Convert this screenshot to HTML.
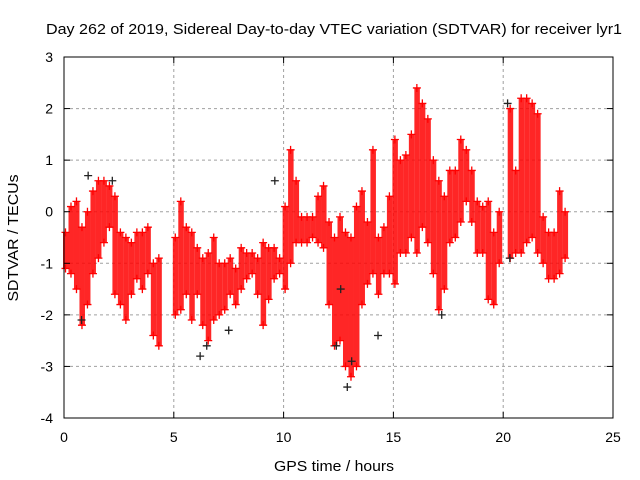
<!DOCTYPE html>
<html><head><meta charset="utf-8"><style>
body{margin:0;background:#fff}
svg{display:block;font-family:"Liberation Sans",sans-serif}
</style></head><body>
<svg id="chart" width="640" height="480" viewBox="0 0 640 480">
<rect width="640" height="480" fill="#fff"/>
<text x="334" y="34" font-size="14.5" textLength="576" lengthAdjust="spacingAndGlyphs" text-anchor="middle">Day 262 of 2019, Sidereal Day-to-day VTEC variation (SDTVAR) for receiver lyr1</text>
<g id="grid"></g>
<g id="series"></g>
<g id="series2"></g>
<rect x="64" y="57" width="549" height="361" fill="none" stroke="#000"/>
<g id="ticks"></g>
<text x="334" y="471" font-size="14.5" textLength="120" lengthAdjust="spacingAndGlyphs" text-anchor="middle">GPS time / hours</text>
<text transform="translate(18,238) rotate(-90)" font-size="14.5" textLength="127" lengthAdjust="spacingAndGlyphs" text-anchor="middle">SDTVAR / TECUs</text>
</svg>
<script>
const xTicks=[0,5,10,15,20,25];
const yTicks=[-4,-3,-2,-1,0,1,2,3];
const binTimes=[0,0.25,0.5,0.75,1,1.25,1.5,1.75,2,2.25,2.5,2.75,3,3.25,3.5,3.75,4,4.25,5,5.25,5.5,5.75,6,6.25,6.5,6.75,7,7.25,7.5,7.75,8,8.25,8.5,8.75,9,9.25,9.5,9.75,10,10.25,10.5,10.75,11,11.25,11.5,11.75,12,12.25,12.5,12.75,13,13.25,13.5,13.75,14,14.25,14.5,14.75,15,15.25,15.5,15.75,16,16.25,16.5,16.75,17,17.25,17.5,17.75,18,18.25,18.5,18.75,19,19.25,19.5,19.75,20.25,20.5,20.75,21,21.25,21.5,21.75,22,22.25,22.5,22.75];
const binLow=[-1.1,-1.2,-1.5,-2.2,-1.8,-1.2,-0.9,-0.6,-0.3,-1.6,-1.8,-2.1,-1.6,-1.3,-1.5,-1.2,-2.4,-2.6,-2.0,-1.9,-1.6,-2.1,-1.6,-2.2,-2.5,-2.1,-2.0,-1.9,-1.6,-1.8,-1.5,-1.3,-1.2,-1.6,-2.2,-1.7,-1.3,-1.2,-1.5,-1.0,-0.6,-0.6,-0.6,-0.5,-0.6,-0.7,-1.8,-2.6,-2.5,-3.0,-3.2,-3.0,-1.8,-1.4,-1.2,-1.6,-1.2,-1.2,-1.4,-0.8,-0.8,-0.5,-0.8,-0.3,-0.6,-1.2,-1.9,-1.5,-0.6,-0.5,-0.2,0.2,-0.2,-0.8,-0.8,-1.7,-1.8,-1.0,-0.9,-0.8,-0.8,-0.6,-0.5,-0.8,-1.0,-1.3,-1.3,-1.2,-0.9];
const binHigh=[-0.4,0.1,0.2,-0.3,0.0,0.4,0.6,0.6,0.5,0.3,-0.4,-0.5,-0.6,-0.4,-0.4,-0.3,-1.0,-0.9,-0.5,0.2,-0.3,-0.4,-0.7,-0.9,-0.8,-0.5,-1.0,-1.0,-0.9,-1.1,-0.7,-0.8,-0.8,-0.9,-0.6,-0.7,-0.7,-0.9,0.1,1.2,0.6,-0.1,-0.1,-0.1,0.3,0.5,-0.2,-0.5,-0.1,-0.4,-0.5,0.1,0.4,-0.2,1.2,-0.5,-0.3,0.3,1.4,1.0,1.1,1.5,2.4,2.1,1.8,1.0,0.6,0.3,0.8,0.8,1.4,1.2,0.8,0.2,0.1,0.2,-0.4,0.0,2.0,0.8,2.2,2.2,2.1,1.9,-0.1,-0.4,-0.4,0.4,0.0];
const blackT=[0.8,2.2,6.2,6.5,7.5,9.6,12.4,12.9,13.1,14.3,17.2,20.2,20.3,12.6,1.1];
const blackV=[-2.1,0.6,-2.8,-2.6,-2.3,0.6,-2.6,-3.4,-2.9,-2.4,-2.0,2.1,-0.9,-1.5,0.7];
const X0=64,X1=613,Y0=418,Y1=57;
const sx=t=>X0+(t-0)/(25-0)*(X1-X0);
const sy=v=>Y0-(v+4)/(3+4)*(Y0-Y1);
const NS="http://www.w3.org/2000/svg";
function mk(tag,attrs,parent){const e=document.createElementNS(NS,tag);for(const k in attrs)e.setAttribute(k,attrs[k]);parent.appendChild(e);return e;}
const grid=document.getElementById('grid'),ticks=document.getElementById('ticks');
xTicks.forEach(t=>{const x=sx(t);
 if(t>0&&t<25){const l=mk('line',{x1:x,x2:x,y1:Y1,y2:Y0,stroke:'#a0a0a0','stroke-dasharray':'3,3'},grid);}
 mk('line',{x1:x,x2:x,y1:Y0,y2:Y0-6,stroke:'#000'},ticks);mk('line',{x1:x,x2:x,y1:Y1,y2:Y1+6,stroke:'#000'},ticks);
 const tx=mk('text',{x:x,y:Y0+24,'font-size':14,'text-anchor':'middle'},ticks);tx.textContent=t;
 
 });
yTicks.forEach(v=>{const y=sy(v);
 if(v>-4&&v<3){const l=mk('line',{x1:X0,x2:X1,y1:y,y2:y,stroke:'#a0a0a0','stroke-dasharray':'3,3'},grid);}
 mk('line',{x1:X0,x2:X0+6,y1:y,y2:y,stroke:'#000'},ticks);mk('line',{x1:X1,x2:X1-6,y1:y,y2:y,stroke:'#000'},ticks);
 const tx=mk('text',{x:X0-11,y:y+5,'font-size':14,'text-anchor':'end'},ticks);tx.textContent=v;
 
 });
const ser=document.getElementById('series');
function plus(x,y,c,p,name){const g=mk('path',{d:`M${x-4},${y}h8M${x},${y-4}v8`,stroke:c,'stroke-width':1.3},p);
 
 }
binTimes.forEach((t,i)=>{const x=sx(t),yl=sy(binLow[i]),yh=sy(binHigh[i]);
 const r=mk('rect',{x:x-1,y:yh,width:5.5,height:Math.max(2,yl-yh),fill:'#ff0000','fill-opacity':0.85},ser);
 
 
 plus(x+1.5,yh,'#f00',ser,'data-point');plus(x+1.5,yl,'#f00',ser,'data-point');});
const s2=document.getElementById('series2');
blackT.forEach((t,i)=>plus(sx(t),sy(blackV[i]),'#222',s2,'data-point-black'));
</script>
</body></html>
